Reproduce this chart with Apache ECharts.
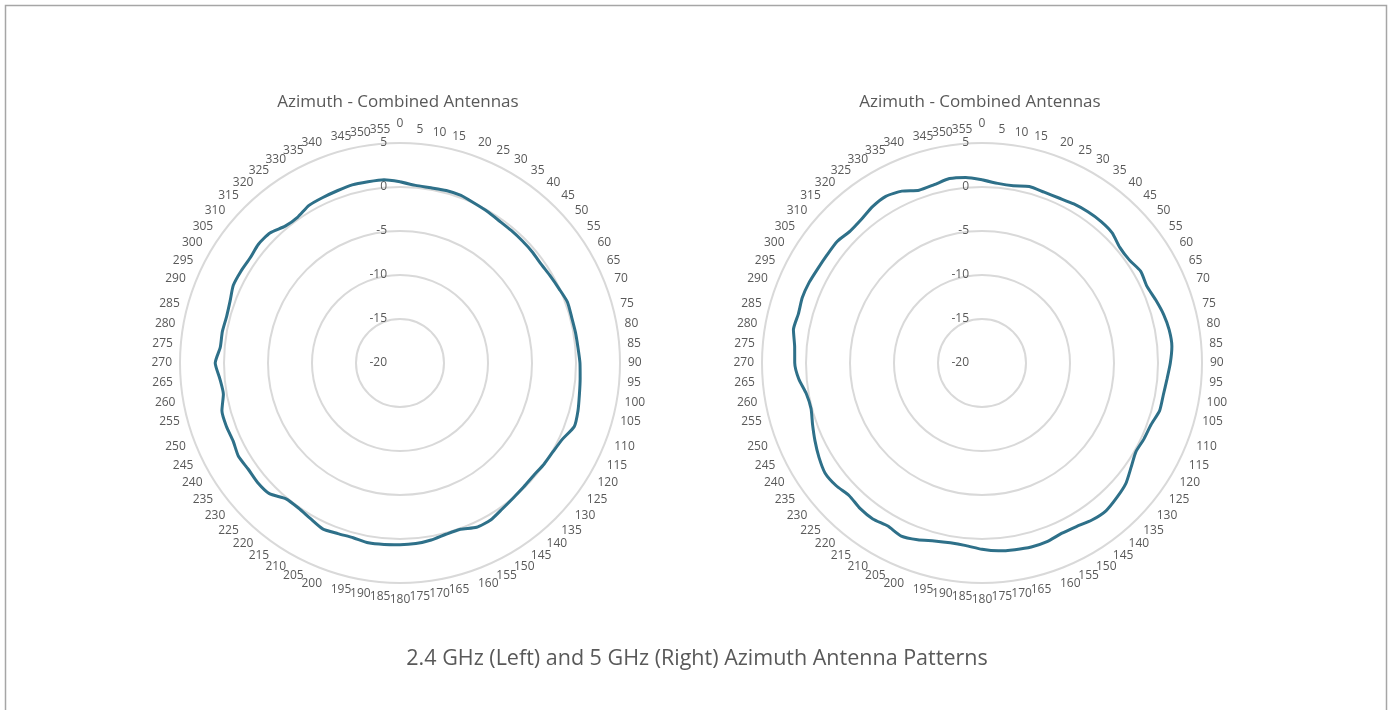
<!DOCTYPE html>
<html>
<head>
<meta charset="utf-8">
<script src="https://cdn.jsdelivr.net/npm/echarts@6/dist/echarts.min.js"></script>
<style>
  html, body { margin: 0; padding: 0; background: #fff; }
  #chart { width: 1393px; height: 710px; }
</style>
</head>
<body>
<div id="chart"></div>
<script>
// Azimuth angles (degrees, clockwise from top)
const angles = [0,5,10,15,20,25,30,35,40,45,50,55,60,65,70,75,80,85,90,95,100,105,110,115,120,125,130,135,140,145,150,155,160,165,170,175,180,185,190,195,200,205,210,215,220,225,230,235,240,245,250,255,260,265,270,275,280,285,290,295,300,305,310,315,320,325,330,335,340,345,350,355];

// 2.4 GHz gain (dB) at each angle
const gain24 = [0.6,0.26,0.22,0.3,0.26,0.02,-0.13,-0.3,-0.34,-0.36,-0.37,-0.42,-0.27,-0.05,0.25,0.19,0.24,0.3,0.45,0.55,0.7,0.94,1.08,0.4,0.1,0.0,-0.15,-0.1,0.02,0.25,0.6,0.6,0.1,0.15,0.43,0.6,0.64,0.7,0.75,0.56,0.63,0.8,0.4,0.12,0.15,1.0,1.13,1.05,1.2,0.93,1.0,0.95,0.38,0.55,1.0,0.5,0.5,0.4,0.55,0.9,0.87,0.8,1.0,0.9,0.3,0.25,0.68,0.75,0.83,0.96,0.91,0.9];

// 5 GHz gain (dB) at each angle
const gain5 = [0.83,0.49,0.45,0.77,0.66,0.69,0.87,0.98,1.02,0.92,0.44,0.43,0.83,0.67,1.0,1.36,1.6,1.66,1.4,1.1,0.92,0.9,0.45,0.33,0.19,0.68,1.33,1.65,1.92,1.78,1.46,1.37,1.61,1.65,1.54,1.43,1.17,0.83,0.75,0.94,1.38,1.71,1.4,1.63,1.57,1.33,1.66,1.78,1.4,0.94,0.49,0.11,0.26,0.9,1.28,1.37,1.76,1.6,1.73,1.67,1.52,1.47,1.49,1.19,1.31,1.69,1.87,1.55,0.9,0.98,1.28,1.17];

const radiusTicks = [-20, -15, -10, -5, 0, 5];
const chartTitle = 'Azimuth - Combined Antennas';
const caption = '2.4 GHz (Left) and 5 GHz (Right) Azimuth Antenna Patterns';

const FONT = '"Open Sans", "Noto Sans", sans-serif';
const TXT = '#595959';
const LINE = '#2e7089';

function loop(vals) {
  const d = angles.map((a, i) => [vals[i], a]);
  d.push([vals[0], 360]);
  return d;
}

const centers = [[400, 363], [982, 363]];
const R = 220;

const polar = centers.map(c => ({ center: c, radius: R }));
const angleAxis = centers.map((c, i) => ({
  polarIndex: i,
  type: 'value',
  min: 0, max: 360, interval: 5,
  startAngle: 90, clockwise: true,
  axisLine: { show: false },
  axisTick: { show: false },
  splitLine: { show: false },
  axisLabel: {
    color: TXT, fontFamily: FONT, fontSize: 12, margin: 8,
    formatter: v => (v >= 360 ? '' : (v === 0 ? '{top|0}' : (v === 180 ? '{bot|180}' : String(v)))),
    rich: {
      top: { color: TXT, fontFamily: FONT, fontSize: 12, padding: [0, 0, 5, 0] },
      bot: { color: TXT, fontFamily: FONT, fontSize: 12, padding: [3, 0, 0, 0] }
    }
  }
}));
const radiusAxis = centers.map((c, i) => ({
  polarIndex: i,
  type: 'value',
  min: radiusTicks[0], max: radiusTicks[radiusTicks.length - 1], interval: 5,
  axisLine: { show: false },
  axisTick: { show: false },
  splitLine: { show: true, lineStyle: { color: '#d9d9d9', width: 2 } },
  axisLabel: { color: TXT, fontFamily: FONT, fontSize: 12, margin: 13 }
}));

const chart = echarts.init(document.getElementById('chart'));
chart.setOption({
  animation: false,
  backgroundColor: '#fff',
  title: [
    { text: chartTitle, left: 393, top: 89, textAlign: 'center',
      textStyle: { color: TXT, fontFamily: FONT, fontSize: 17, fontWeight: 'normal' } },
    { text: chartTitle, left: 975, top: 89, textAlign: 'center',
      textStyle: { color: TXT, fontFamily: FONT, fontSize: 17, fontWeight: 'normal' } },
    { text: caption, left: 692, top: 643, textAlign: 'center',
      textStyle: { color: TXT, fontFamily: FONT, fontSize: 21.5, fontWeight: 'normal' } }
  ],
  graphic: [{
    type: 'rect', silent: true,
    shape: { x: 5.5, y: 5.5, width: 1381, height: 720 },
    style: { fill: 'none', stroke: '#a6a6a6', lineWidth: 1.5 }
  }],
  polar: polar,
  angleAxis: angleAxis,
  radiusAxis: radiusAxis,
  series: [
    { type: 'line', coordinateSystem: 'polar', polarIndex: 0, data: loop(gain24),
      showSymbol: false, smooth: 0.2, lineStyle: { color: LINE, width: 3 } },
    { type: 'line', coordinateSystem: 'polar', polarIndex: 1, data: loop(gain5),
      showSymbol: false, smooth: 0.2, lineStyle: { color: LINE, width: 3 } }
  ]
});
</script>
</body>
</html>
